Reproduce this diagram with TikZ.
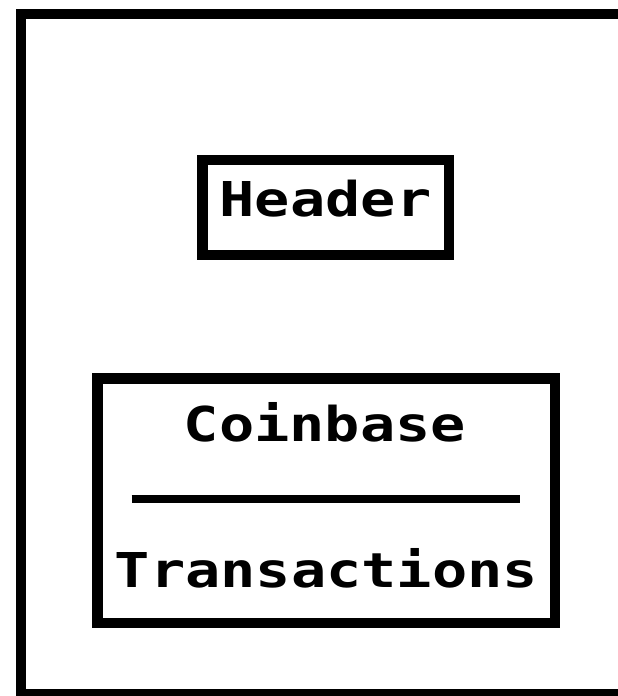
\documentclass[tikz,border=0pt]{standalone}
\usepackage{fontspec}
\newfontfamily\lblfont[FakeStretch=1.22]{DejaVu Sans Mono}
\tikzset{
  frame/.style={draw=black, line width=10pt},
  box/.style={draw=black, line width=10.5pt, rectangle, inner sep=0pt, outer sep=0pt},
  lbl/.style={font=\lblfont\bfseries\fontsize{48}{48}\selectfont, inner sep=0pt, anchor=base},
  rule/.style={draw=black, line width=8pt}
}
\begin{document}
\begin{tikzpicture}[x=1pt, y=-1pt]
  \useasboundingbox (0,0) rectangle (618,696);
  \fill[white] (0,0) rectangle (618,696);
  % block outline, running off the right and bottom edges
  \begin{scope}
    \clip (0,0) rectangle (618,696);
    \draw[frame] (20.7,13.8) rectangle (640,694.3);
  \end{scope}
  % header
  \node[box, minimum width=246.5pt, minimum height=95pt] (header) at (325.75,207.5) {};
  \node[lbl] (headertext) at (325.5,216.5) {Header};
  % body with coinbase and transactions
  \node[box, minimum width=457.5pt, minimum height=244.3pt] (body) at (326.25,500.85) {};
  \node[lbl] (coinbase) at (325,441.5) {Coinbase};
  \node[lbl] (txs) at (326.5,587.5) {Transactions};
  \coordinate (divL) at (131.7,499);
  \coordinate (divR) at (520,499);
  \draw[rule] (divL) -- (divR);
\end{tikzpicture}
\end{document}
